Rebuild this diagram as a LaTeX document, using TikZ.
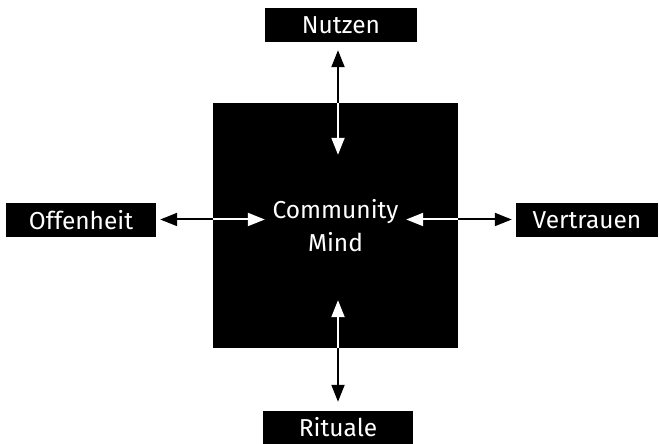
\documentclass[tikz,border=0pt]{standalone}
\usepackage{fontspec}
\setmainfont{Fira Sans}
\usetikzlibrary{arrows.meta,calc}
\tikzset{
  box/.style={fill=black,text=white,inner sep=0pt,minimum height=34pt,
    font=\fontsize{24.5}{33}\selectfont},
  outlink/.style={line width=2pt,-{Triangle[length=17pt,width=13pt]}},
  inlink/.style={outlink,white},
}
\begin{document}
\begin{tikzpicture}[x=1pt,y=1pt]
  \useasboundingbox (0,0) rectangle (659,444);
  % centre
  \node[box,minimum size=245pt,align=center] (mind) at (335.5,218.5) {Community\\Mind};
  % the four values
  \node[box,minimum width=152pt] (nutzen) at (341,419) {Nutzen};
  \node[box,minimum width=150pt,minimum height=33pt] (rituale) at (338,16.5) {Rituale};
  \node[box,minimum width=150pt] (offen) at (81,224) {Offenheit};
  \node[box,minimum width=142pt] (vertrauen) at (587,224) {Vertrauen};
  % points on the border of the centre
  \coordinate (n) at ([xshift=2.5pt]mind.north);
  \coordinate (s) at ([xshift=2.5pt]mind.south);
  \coordinate (w) at ([yshift=6pt]mind.west);
  \coordinate (e) at ([yshift=6pt]mind.east);
  \coordinate (n-in) at ([yshift=-52pt]n);
  \coordinate (s-in) at ([yshift=48pt]s);
  \coordinate (w-in) at ([xshift=52pt]w);
  \coordinate (e-in) at ([xshift=-52pt]e);
  % arrows
  \draw[outlink,shorten >=8pt] (n) -- (n |- nutzen.south);
  \draw[inlink] (n) -- (n-in);
  \draw[outlink,shorten >=9pt] (s) -- (s |- rituale.north);
  \draw[inlink] (s) -- (s-in);
  \draw[outlink,shorten >=4pt] (w) -- (w -| offen.east);
  \draw[inlink] (w) -- (w-in);
  \draw[outlink,shorten >=4pt] (e) -- (e -| vertrauen.west);
  \draw[inlink] (e) -- (e-in);
\end{tikzpicture}
\end{document}
